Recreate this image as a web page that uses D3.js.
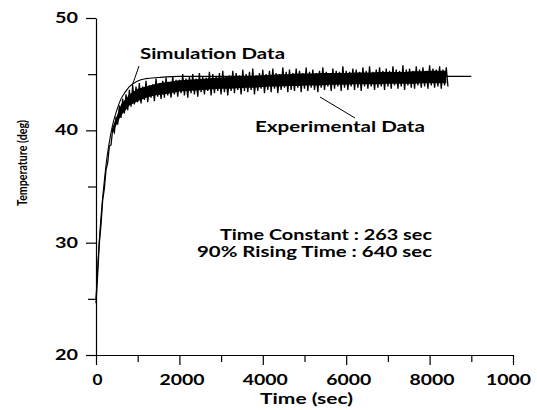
<!DOCTYPE html>
<html><head><meta charset="utf-8">
<script src="https://cdn.jsdelivr.net/npm/d3@7"></script>
<style>body{margin:0;background:#fff}text{font-family:Lato,"DejaVu Sans",sans-serif;fill:#000}</style>
</head><body><svg id="c" width="537" height="410"></svg>
<script>
const xTickValues=[0,2000,4000,6000,8000,10000];
const xTickLabels=["0","2000","4000","6000","8000","1000"];
const xMinorTicks=[1000,3000,5000,7000,9000];
const yTickValues=[20,30,40,50];
const yTickLabels=["20","30","40","50"];
const yMinorTicks=[25,35,45];

const simTime=[0,25,50,75,100,150,200,250,300,400,500,600,700,800,1000,1200,1500,2000,3000,4000,5000,6000,7000,8000,9000];
const simTemp=[25.0,26.8,28.4,29.9,31.3,33.6,35.5,37.2,38.5,40.5,41.8,42.8,43.4,43.9,44.4,44.6,44.7,44.8,44.8,44.8,44.8,44.8,44.8,44.8,44.8];

// experimental record: peak (at t) and trough (at t+40 s) for each 80 s sample pair
const expStep=80;
const expHigh=[24.6,30.0,33.8,36.5,38.6,40.1,41.2,42.2,42.8,43.2,43.6,44.0,43.9,
44.2,43.9,44.4,44.0,44.1,44.6,44.2,44.4,44.7,44.3,44.8,44.5,44.5,45.0,44.6,44.8,45.0,44.6,45.1,44.8,44.7,45.2,
45.0,44.8,45.1,45.3,44.8,44.9,45.3,45.1,44.9,45.4,45.0,45.2,45.5,44.9,45.1,45.4,45.0,45.3,45.5,45.1,45.0,45.6,
45.2,45.4,45.1,45.5,45.3,45.1,45.6,45.2,45.4,45.1,45.3,45.6,45.2,45.1,45.5,45.3,45.2,45.7,45.3,45.2,45.5,45.4,
45.2,45.6,45.3,45.7,45.2,45.4,45.6,45.3,45.5,45.3,45.7,45.4,45.3,45.8,45.4,45.5,45.3,45.7,45.4,45.6,45.3,45.8,
45.5,45.4,45.7,45.4,45.6];
const expLow=[27.2,31.6,34.8,37.1,38.7,39.8,40.5,41.1,41.5,41.8,42.1,42.3,42.5,
42.4,42.7,42.5,42.9,42.6,43.0,42.8,42.9,43.1,42.9,43.2,43.0,43.3,43.1,42.9,43.3,43.2,43.0,43.4,43.2,43.5,43.1,
43.3,43.5,43.2,43.4,43.1,43.5,43.3,43.6,43.2,43.5,43.4,43.6,43.2,43.5,43.7,43.3,43.6,43.4,43.7,43.3,43.6,43.8,
43.4,43.6,43.5,43.8,43.4,43.7,43.5,43.8,43.6,43.4,43.8,43.6,43.9,43.5,43.7,43.9,43.5,43.8,43.6,43.9,43.6,43.8,
43.5,43.9,43.7,43.9,43.6,43.8,43.9,43.6,43.9,43.7,44.0,43.7,43.9,43.6,44.0,43.8,43.7,44.0,43.8,43.9,43.7,44.0,
43.8,43.9,43.7,44.0,43.9];
// dense (solid-looking) core of the experimental trace, every 200 s from 400 s
const coreStart=400, coreStep=200;
const coreLow=[39.8,41.3,42.2,42.6,42.9,43.1,43.2,43.3,43.45,43.5,43.55,43.6,43.65,43.7,43.7,43.75,43.8,43.8,43.85,43.9,
43.9,43.95,43.95,44.0,44.0,44.0,44.05,44.05,44.05,44.1,44.1,44.1,44.1,44.15,44.15,44.15,44.15,44.2,44.2,44.2,44.2];
const coreHigh=[40.3,42.3,43.2,43.7,43.9,44.1,44.25,44.35,44.45,44.5,44.55,44.6,44.65,44.7,44.75,44.8,44.8,44.85,44.9,44.95,
45.0,45.0,45.05,45.05,45.05,45.1,45.1,45.1,45.1,45.15,45.15,45.15,45.2,45.2,45.2,45.2,45.25,45.25,45.3,45.3,45.3];

const svg=d3.select("#c");
const x=d3.scaleLinear().domain([0,10000]).range([96,513]);
const y=d3.scaleLinear().domain([20,50]).range([355,18]);

function styleAxis(g){g.select(".domain").attr("stroke","#000").attr("stroke-width",1.2);
  g.selectAll(".tick line").attr("stroke","#000").attr("stroke-width",1.2);}

// y axis
const gy=svg.append("g").attr("transform","translate(96,0)")
  .call(d3.axisLeft(y).tickValues(yTickValues).tickFormat((d,i)=>yTickLabels[i]).tickSize(10).tickSizeOuter(0).tickPadding(8));
styleAxis(gy);
gy.selectAll(".tick text").attr("font-size",14.5).attr("font-weight",700)
  .attr("textLength",23).attr("lengthAdjust","spacingAndGlyphs");
const gym=svg.append("g").attr("transform","translate(96,0)")
  .call(d3.axisLeft(y).tickValues(yMinorTicks).tickFormat("").tickSize(8).tickSizeOuter(0));
styleAxis(gym); gym.select(".domain").remove();

// x axis
const gx=svg.append("g").attr("transform","translate(0,355)")
  .call(d3.axisBottom(x).tickValues(xTickValues).tickFormat((d,i)=>xTickLabels[i]).tickSize(10).tickSizeOuter(0).tickPadding(10));
styleAxis(gx);
gx.selectAll(".tick text").attr("font-size",14.5).attr("font-weight",700)
  .each(function(d,i){const s=xTickLabels[i];d3.select(this).attr("textLength",s.length===1?10:45).attr("lengthAdjust","spacingAndGlyphs");})
  .attr("dx",(d,i)=>i===xTickLabels.length-1?-5:(i===0?1:2));
const gxm=svg.append("g").attr("transform","translate(0,355)")
  .call(d3.axisBottom(x).tickValues(xMinorTicks).tickFormat("").tickSize(7).tickSizeOuter(0));
styleAxis(gxm); gxm.select(".domain").remove();

// experimental data: solid core + zigzag between peaks and troughs
svg.append("path").datum(coreLow.map((v,i)=>[coreStart+i*coreStep,v,coreHigh[i]]))
  .attr("d",d3.area().x(d=>x(d[0])).y0(d=>y(d[1])).y1(d=>y(d[2])))
  .attr("fill","#000");
const expPts=[];
expHigh.forEach((v,k)=>{expPts.push([k*expStep,v]);expPts.push([k*expStep+expStep/2,expLow[k]]);});
svg.append("path").datum(expPts)
  .attr("d",d3.line().x(d=>x(d[0])).y(d=>y(d[1])))
  .attr("fill","none").attr("stroke","#000").attr("stroke-width",1.3).attr("stroke-linejoin","miter");

// simulation
svg.append("path").datum(simTime.map((t,i)=>[t,simTemp[i]]))
  .attr("d",d3.line().x(d=>x(d[0])).y(d=>y(d[1])).curve(d3.curveMonotoneX))
  .attr("fill","none").attr("stroke","#000").attr("stroke-width",1.1);

// annotations
function txt(s,xx,yy,len,size){return svg.append("text").attr("x",xx).attr("y",yy).attr("font-size",size).attr("font-weight",700)
  .attr("textLength",len).attr("lengthAdjust","spacingAndGlyphs").text(s);}
txt("Simulation Data",140,59,145,15);
txt("Experimental Data",255,132,170,15);
txt("Time Constant : 263 sec",220,240,212,14.5);
txt("90% Rising Time : 640 sec",197,257,235,14.5);
txt("Time (sec)",260,404,93,14.5);
svg.append("text").attr("transform","translate(27,163) rotate(-90)").attr("text-anchor","middle")
  .attr("font-size",12.5).attr("font-weight",700).attr("textLength",86).attr("lengthAdjust","spacingAndGlyphs").text("Temperature (deg)");

// leader lines
svg.append("line").attr("x1",139).attr("y1",66).attr("x2",132).attr("y2",86).attr("stroke","#000").attr("stroke-width",1);
svg.append("line").attr("x1",320).attr("y1",97).attr("x2",355).attr("y2",118).attr("stroke","#000").attr("stroke-width",1);
</script></body></html>
